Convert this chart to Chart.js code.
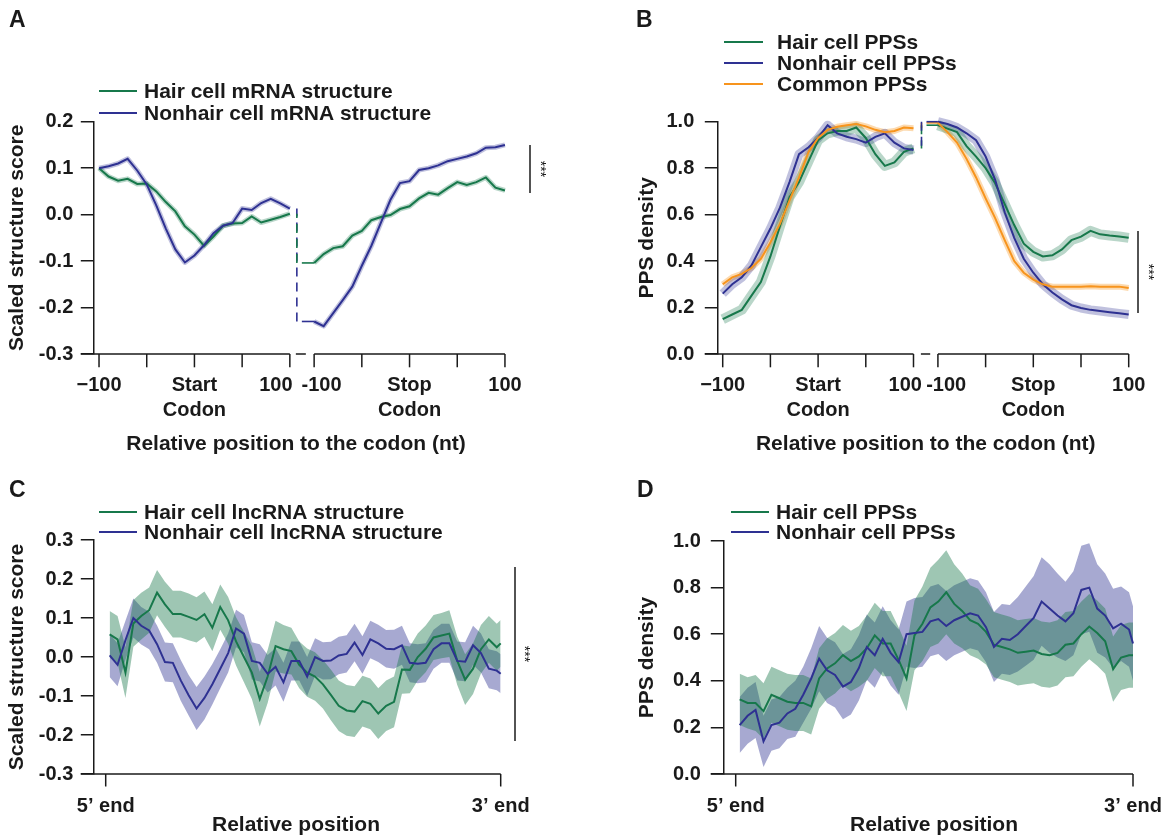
<!DOCTYPE html>
<html>
<head>
<meta charset="utf-8">
<script src="https://cdn.jsdelivr.net/npm/chart.js@4.4.0/dist/chart.umd.min.js"></script>
<style>
  html, body { margin: 0; padding: 0; background: #fff; }
  #wrap { position: relative; width: 1171px; height: 838px; }
  canvas { position: absolute; }
</style>
</head>
<body>
<div id="wrap">
  <canvas id="cA" width="585" height="470" style="left:0;top:0"></canvas>
  <canvas id="cB" width="586" height="470" style="left:585px;top:0"></canvas>
  <canvas id="cC" width="585" height="368" style="left:0;top:470px"></canvas>
  <canvas id="cD" width="586" height="368" style="left:585px;top:470px"></canvas>
</div>
<script>
// colours / fonts
const FONT = "'Liberation Sans', Arial, Helvetica, sans-serif";
const INK = '#1a1a1a';
const GREEN = '#17784b';
const BLUE = '#2e3192';
const ORANGE = '#f7941d';
const FS = 20;   // tick labels
const FL = 21;   // legend + axis titles

// ---------- data ----------
// positions (nt) around the codon, every 10 nt
const ntPos = [-100, -90, -80, -70, -60, -50, -40, -30, -20, -10, 0, 10, 20, 30, 40, 50, 60, 70, 80, 90, 100];
const codonTicks = [-100, -50, 0, 50, 100];
const codonLabelNt = [-100, 0, 100];
const startLabels = ['\u2212100', 'Start\nCodon', '100'];
const stopLabels = ['-100', 'Stop\nCodon', '100'];

// A: scaled mRNA structure score
const aHairStart = [0.100, 0.082, 0.073, 0.077, 0.066, 0.067, 0.050, 0.027, 0.007, -0.025, -0.043, -0.067, -0.047, -0.024, -0.019, -0.018, -0.004, -0.017, -0.011, -0.005, 0.002];
const aNonhairStart = [0.100, 0.104, 0.110, 0.120, 0.095, 0.065, 0.020, -0.030, -0.075, -0.103, -0.088, -0.066, -0.040, -0.024, -0.018, 0.013, 0.010, 0.025, 0.034, 0.024, 0.013];
const aHairStop = [-0.104, -0.085, -0.072, -0.068, -0.045, -0.035, -0.012, -0.005, -0.001, 0.012, 0.018, 0.035, 0.047, 0.043, 0.057, 0.070, 0.064, 0.070, 0.080, 0.058, 0.052];
const aNonhairStop = [-0.230, -0.240, -0.212, -0.184, -0.155, -0.110, -0.067, -0.017, 0.032, 0.068, 0.072, 0.096, 0.100, 0.106, 0.115, 0.120, 0.125, 0.132, 0.144, 0.145, 0.150];

// B: PPS density
const bHairStart = [0.15, 0.17, 0.19, 0.25, 0.31, 0.42, 0.55, 0.675, 0.74, 0.83, 0.92, 0.95, 0.96, 0.96, 0.975, 0.93, 0.86, 0.81, 0.825, 0.87, 0.885];
const bNonhairStart = [0.26, 0.30, 0.33, 0.38, 0.46, 0.54, 0.63, 0.74, 0.86, 0.89, 0.93, 0.985, 0.95, 0.935, 0.925, 0.91, 0.935, 0.95, 0.91, 0.885, 0.878];
const bCommonStart = [0.30, 0.33, 0.345, 0.37, 0.41, 0.48, 0.56, 0.66, 0.76, 0.87, 0.93, 0.965, 0.978, 0.985, 0.99, 0.98, 0.965, 0.955, 0.96, 0.975, 0.972];
const bHairStop = [0.985, 0.97, 0.955, 0.895, 0.85, 0.80, 0.735, 0.645, 0.555, 0.475, 0.44, 0.42, 0.425, 0.45, 0.49, 0.505, 0.53, 0.515, 0.51, 0.506, 0.50];
const bNonhairStop = [1.0, 0.99, 0.975, 0.95, 0.92, 0.85, 0.75, 0.61, 0.50, 0.41, 0.35, 0.30, 0.265, 0.235, 0.21, 0.198, 0.19, 0.185, 0.18, 0.175, 0.17];
const bCommonStop = [0.995, 0.955, 0.91, 0.84, 0.76, 0.67, 0.585, 0.49, 0.40, 0.35, 0.32, 0.30, 0.29, 0.29, 0.29, 0.29, 0.292, 0.29, 0.29, 0.29, 0.284];

// C / D: relative position along the transcript (0 = 5' end, 100 = 3' end)
const relPos = [1, 3, 5, 7, 9, 11, 13, 15, 17, 19, 21, 23, 25, 27, 29, 31, 33, 35, 37, 39, 41, 43, 45, 47, 49,
  51, 53, 55, 57, 59, 61, 63, 65, 67, 69, 71, 73, 75, 77, 79, 81, 83, 85, 87, 89, 91, 93, 95, 97, 99, 100];
const endLabels = ['5\u2019 end', '3\u2019 end'];

const cHair = [0.058, 0.045, -0.040, 0.086, 0.105, 0.120, 0.165, 0.135, 0.110, 0.110, 0.103, 0.095, 0.110, 0.075, 0.128, 0.094, 0.040, 0.000, -0.040, -0.108, -0.050, 0.028, 0.020, 0.015, -0.020,
  -0.040, -0.050, -0.070, -0.097, -0.125, -0.137, -0.140, -0.113, -0.120, -0.145, -0.125, -0.115, -0.032, -0.033, 0.000, 0.021, 0.050, 0.055, 0.060, -0.010, -0.058, -0.030, 0.020, 0.045, 0.025, 0.035];
const cHairHW = [0.060, 0.060, 0.065, 0.060, 0.060, 0.058, 0.058, 0.058, 0.060, 0.060, 0.060, 0.058, 0.058, 0.060, 0.058, 0.060, 0.062, 0.065, 0.068, 0.070, 0.068, 0.065, 0.062, 0.060, 0.060,
  0.062, 0.062, 0.062, 0.065, 0.065, 0.065, 0.065, 0.065, 0.065, 0.065, 0.065, 0.065, 0.062, 0.060, 0.060, 0.060, 0.058, 0.058, 0.060, 0.062, 0.065, 0.065, 0.062, 0.060, 0.060, 0.060];
const cNonhair = [0.004, -0.020, 0.043, 0.100, 0.080, 0.068, 0.033, -0.013, -0.015, -0.060, -0.098, -0.132, -0.105, -0.070, -0.030, 0.010, 0.073, 0.060, -0.010, -0.015, -0.043, -0.025, -0.065, -0.010, -0.010,
  -0.050, 0.000, -0.010, -0.009, 0.004, 0.008, 0.037, 0.005, 0.045, 0.035, 0.021, 0.020, 0.030, -0.015, -0.017, -0.015, 0.020, 0.035, 0.035, -0.010, -0.012, 0.030, 0.010, -0.030, -0.035, -0.043];
const cNonhairHW = [0.055, 0.055, 0.050, 0.050, 0.048, 0.048, 0.048, 0.050, 0.050, 0.052, 0.052, 0.055, 0.055, 0.052, 0.050, 0.050, 0.048, 0.048, 0.048, 0.048, 0.048, 0.048, 0.050, 0.050, 0.050,
  0.050, 0.048, 0.048, 0.048, 0.048, 0.048, 0.048, 0.048, 0.048, 0.048, 0.048, 0.050, 0.050, 0.050, 0.050, 0.050, 0.050, 0.050, 0.050, 0.050, 0.050, 0.050, 0.050, 0.050, 0.050, 0.050];

const dHair = [0.32, 0.305, 0.305, 0.27, 0.34, 0.325, 0.31, 0.305, 0.305, 0.29, 0.41, 0.453, 0.475, 0.51, 0.485, 0.505, 0.54, 0.595, 0.56, 0.56, 0.49, 0.41, 0.595, 0.645, 0.715,
  0.74, 0.78, 0.73, 0.70, 0.66, 0.645, 0.61, 0.555, 0.545, 0.535, 0.52, 0.525, 0.53, 0.515, 0.51, 0.52, 0.555, 0.56, 0.60, 0.633, 0.605, 0.57, 0.45, 0.50, 0.51, 0.51];
const dHairHW = [0.11, 0.11, 0.12, 0.12, 0.12, 0.12, 0.12, 0.12, 0.12, 0.12, 0.13, 0.13, 0.13, 0.13, 0.13, 0.13, 0.14, 0.14, 0.14, 0.14, 0.14, 0.14, 0.15, 0.16, 0.17,
  0.18, 0.18, 0.17, 0.16, 0.15, 0.15, 0.14, 0.14, 0.14, 0.14, 0.14, 0.14, 0.14, 0.14, 0.14, 0.14, 0.14, 0.14, 0.14, 0.14, 0.14, 0.14, 0.14, 0.14, 0.14, 0.14];
const dNonhair = [0.21, 0.25, 0.275, 0.14, 0.21, 0.22, 0.26, 0.28, 0.34, 0.41, 0.495, 0.445, 0.425, 0.375, 0.395, 0.455, 0.545, 0.51, 0.58, 0.52, 0.48, 0.60, 0.605, 0.61, 0.655,
  0.665, 0.635, 0.66, 0.675, 0.69, 0.68, 0.63, 0.545, 0.58, 0.575, 0.60, 0.635, 0.67, 0.74, 0.71, 0.68, 0.655, 0.69, 0.79, 0.80, 0.71, 0.68, 0.625, 0.645, 0.62, 0.56];
const dNonhairHW = [0.12, 0.12, 0.12, 0.11, 0.11, 0.11, 0.11, 0.12, 0.12, 0.13, 0.14, 0.14, 0.14, 0.14, 0.14, 0.14, 0.14, 0.14, 0.14, 0.14, 0.14, 0.14, 0.15, 0.15, 0.15,
  0.15, 0.15, 0.15, 0.15, 0.15, 0.15, 0.15, 0.15, 0.15, 0.15, 0.16, 0.17, 0.18, 0.19, 0.19, 0.18, 0.17, 0.18, 0.19, 0.19, 0.19, 0.18, 0.17, 0.16, 0.16, 0.16];

// y tick values / labels
const yValsA = [-0.3, -0.2, -0.1, 0, 0.1, 0.2];
const yLabsA = ['-0.3', '-0.2', '-0.1', '0.0', '0.1', '0.2'];
const yValsB = [0, 0.2, 0.4, 0.6, 0.8, 1.0];
const yLabsB = ['0.0', '0.2', '0.4', '0.6', '0.8', '1.0'];
const yValsC = [-0.3, -0.2, -0.1, 0, 0.1, 0.2, 0.3];
const yLabsC = ['-0.3', '-0.2', '-0.1', '0.0', '0.1', '0.2', '0.3'];

// ---------- helpers ----------
function rgba(hex, a) {
  const n = parseInt(hex.slice(1), 16);
  return `rgba(${n >> 16},${(n >> 8) & 255},${n & 255},${a})`;
}
function seg(ctx, x1, y1, x2, y2) {
  ctx.beginPath(); ctx.moveTo(x1, y1); ctx.lineTo(x2, y2); ctx.stroke();
}

function yAxis(min, max, vals, labs, title, width, labelPad, titlePad) {
  return {
    min, max,
    afterFit: s => { s.width = width; },
    afterBuildTicks: s => { s.ticks = vals.map(v => ({ value: v })); },
    ticks: {
      callback: (v, i) => labs[i],
      font: { family: FONT, size: FS, weight: 'bold' },
      color: INK, padding: labelPad, autoSkip: false
    },
    grid: { drawOnChartArea: false, drawTicks: true, tickLength: 12.5, color: INK, lineWidth: 1.5 },
    border: { display: true, color: INK, width: 1.5 },
    title: {
      display: true, text: title, color: INK,
      font: { family: FONT, size: 21, weight: 'bold', lineHeight: 1 },
      padding: { top: titlePad, bottom: 0 }
    }
  };
}

// legend, panel letter, significance bar, x title
function drawCommon(ctx, cfg) {
  ctx.lineWidth = 2;
  ctx.font = `bold ${FL}px ${FONT}`;
  ctx.textAlign = 'left';
  ctx.textBaseline = 'middle';
  cfg.legend.items.forEach(([txt, col], i) => {
    const y = cfg.legend.ys[i];
    ctx.strokeStyle = col;
    seg(ctx, cfg.legend.x1, y, cfg.legend.x2, y);
    ctx.fillStyle = INK;
    ctx.fillText(txt, cfg.legend.tx, y + 1);
  });
  ctx.font = `bold 23px ${FONT}`;
  ctx.textBaseline = 'alphabetic';
  ctx.fillText(cfg.letter, cfg.letterPos[0], cfg.letterPos[1]);
  if (cfg.sig) {
    ctx.strokeStyle = INK; ctx.lineWidth = 1.5;
    seg(ctx, cfg.sig.x, cfg.sig.y1, cfg.sig.x, cfg.sig.y2);
    ctx.save();
    ctx.translate(cfg.sig.tx, (cfg.sig.y1 + cfg.sig.y2) / 2);
    ctx.rotate(Math.PI / 2);
    ctx.font = `14px ${FONT}`;
    ctx.textAlign = 'center'; ctx.textBaseline = 'middle';
    ctx.fillText('***', 0, 0);
    ctx.restore();
  }
  ctx.font = `bold ${FL}px ${FONT}`;
  ctx.textAlign = 'center'; ctx.textBaseline = 'alphabetic';
  ctx.fillText(cfg.xTitle.text, cfg.xTitle.x, cfg.xTitle.y);
}

// axes and connectors of the start/stop codon panels
function codonDecor(cfg) {
  return {
    id: 'codonDecor',
    afterDraw(chart) {
      const { ctx, chartArea } = chart;
      const xs = chart.scales.x, ys = chart.scales.y;
      const X = (s, nt) => xs.getPixelForValue(nt + 100 + s * (200 + cfg.gap)) + cfg.ox;
      const Y = v => ys.getPixelForValue(v) + cfg.oy;
      const axisY = chartArea.bottom + cfg.oy;
      ctx.save();
      ctx.translate(-cfg.ox, -cfg.oy);
      ctx.strokeStyle = INK; ctx.lineWidth = 1.5; ctx.lineCap = 'butt';
      seg(ctx, chartArea.left + cfg.ox - 12.5, axisY, X(0, 100), axisY);
      seg(ctx, X(1, -100), axisY, X(1, 100), axisY);
      seg(ctx, X(0, 100) + cfg.brk[0], axisY, X(0, 100) + cfg.brk[1], axisY);
      [0, 1].forEach(s => codonTicks.forEach(nt => seg(ctx, X(s, nt), axisY, X(s, nt), axisY + 13.3)));
      ctx.fillStyle = INK;
      ctx.font = `bold ${FS}px ${FONT}`;
      ctx.textAlign = 'center'; ctx.textBaseline = 'alphabetic';
      [startLabels, stopLabels].forEach((labs, s) => labs.forEach((lab, k) => {
        const x = X(s, codonLabelNt[k]) + cfg.shift[s][k];
        lab.split('\n').forEach((ln, j) => ctx.fillText(ln, x, cfg.labelY + j * 25));
      }));
      // dashed connectors between the two windows
      const cx = X(0, 100) + cfg.connX;
      cfg.conn.forEach(([left, right, col]) => {
        ctx.strokeStyle = col; ctx.lineWidth = 1.6;
        ctx.setLineDash([9, 6]);
        seg(ctx, cx, Y(right[0]), cx, Y(left[left.length - 1]));
        ctx.setLineDash([]);
        seg(ctx, cx + cfg.connH, Y(right[0]), X(1, -100), Y(right[0]));
      });
      drawCommon(ctx, cfg);
      ctx.restore();
    }
  };
}

function endDecor(cfg) {
  return {
    id: 'endDecor',
    afterDraw(chart) {
      const { ctx, chartArea } = chart;
      const xs = chart.scales.x;
      const X = p => xs.getPixelForValue(p) + cfg.ox;
      const axisY = chartArea.bottom + cfg.oy;
      ctx.save();
      ctx.translate(-cfg.ox, -cfg.oy);
      ctx.strokeStyle = INK; ctx.lineWidth = 1.5;
      seg(ctx, chartArea.left + cfg.ox - 12.5, axisY, X(100), axisY);
      [0, 100].forEach(p => seg(ctx, X(p), axisY, X(p), axisY + 12.5));
      ctx.fillStyle = INK;
      ctx.font = `bold ${FS}px ${FONT}`;
      ctx.textAlign = 'center'; ctx.textBaseline = 'alphabetic';
      ctx.fillText(endLabels[0], X(0), cfg.labelY);
      ctx.fillText(endLabels[1], X(100), cfg.labelY);
      drawCommon(ctx, cfg);
      ctx.restore();
    }
  };
}

function codonSets(series, gap) {
  const sets = [];
  series.forEach((s, i) => {
    [s.start, s.stop].forEach((vals, sg) => {
      const pts = ntPos.map((nt, k) => ({ x: nt + 100 + sg * (200 + gap), y: vals[k] }));
      sets.push({ data: pts, borderColor: rgba(s.color, s.ribbonA), borderWidth: s.ribbonW, order: 20 + i,
        borderJoinStyle: 'round', clip: false });
      sets.push({ data: pts, borderColor: s.color, borderWidth: 2, order: 10 - i, clip: false });
    });
  });
  return sets;
}

function bandSets(series) {
  const sets = [];
  series.forEach((s, i) => {
    const up = relPos.map((p, k) => ({ x: p, y: s.mean[k] + s.hw[k] }));
    const lo = relPos.map((p, k) => ({ x: p, y: s.mean[k] - s.hw[k] }));
    sets.push({ data: up, borderWidth: 0, backgroundColor: rgba(s.color, 0.42), fill: '+1', order: 30 + 2 * i, clip: false });
    sets.push({ data: lo, borderWidth: 0, fill: false, order: 31 + 2 * i, clip: false });
  });
  series.forEach((s, i) => {
    sets.push({ data: relPos.map((p, k) => ({ x: p, y: s.mean[k] })), borderColor: s.color, borderWidth: 2, order: 10 - i, clip: false });
  });
  return sets;
}

function baseOptions(padding, xMin, xMax, y) {
  return {
    responsive: false,
    animation: false,
    events: [],
    layout: { padding, autoPadding: false },
    plugins: { legend: { display: false }, tooltip: { enabled: false } },
    elements: { point: { radius: 0 }, line: { tension: 0, fill: false } },
    scales: { x: { type: 'linear', min: xMin, max: xMax, display: false }, y }
  };
}

// ---------- Panel A ----------
const gapA = 25.45;
new Chart(document.getElementById('cA'), {
  type: 'line',
  data: { datasets: codonSets([
    { start: aHairStart, stop: aHairStop, color: GREEN, ribbonW: 5, ribbonA: 0.3 },
    { start: aNonhairStart, stop: aNonhairStop, color: BLUE, ribbonW: 5, ribbonA: 0.3 }
  ], gapA) },
  options: baseOptions({ left: 0, top: 121.7, right: 80, bottom: 116 }, -6, 425.5,
    yAxis(-0.3, 0.2, yValsA, yLabsA, 'Scaled structure score', 93.3, 7.5, 7)),
  plugins: [codonDecor({
    ox: 0, oy: 0, gap: gapA, brk: [6, 16], labelY: 391,
    shift: [[0, 0, -14], [7.4, 0, 0]], connX: 7, connH: 5,
    conn: [[aNonhairStart, aNonhairStop, BLUE], [aHairStart, aHairStop, GREEN]],
    letter: 'A', letterPos: [9, 27],
    legend: { x1: 99, x2: 137, tx: 144, ys: [91, 113],
      items: [['Hair cell mRNA structure', GREEN], ['Nonhair cell mRNA structure', BLUE]] },
    sig: { x: 530, y1: 145, y2: 193, tx: 540 },
    xTitle: { text: 'Relative position to the codon (nt)', x: 296, y: 450 }
  })]
});

// ---------- Panel B ----------
const gapB = 25.6;
new Chart(document.getElementById('cB'), {
  type: 'line',
  data: { datasets: codonSets([
    { start: bHairStart, stop: bHairStop, color: GREEN, ribbonW: 10, ribbonA: 0.3 },
    { start: bNonhairStart, stop: bNonhairStop, color: BLUE, ribbonW: 9, ribbonA: 0.3 },
    { start: bCommonStart, stop: bCommonStop, color: ORANGE, ribbonW: 6, ribbonA: 0.35 }
  ], gapB) },
  options: baseOptions({ left: 0, top: 121.7, right: 42.3, bottom: 116 }, -5.67, 425.6,
    yAxis(0, 1.0, yValsB, yLabsB, 'PPS density', 132.3, 10.5, 52)),
  plugins: [codonDecor({
    ox: 585, oy: 0, gap: gapB, brk: [7.4, 16.7], labelY: 391,
    shift: [[0, 0, -8.3], [8.3, 0, 0]], connX: 8, connH: 5,
    conn: [[bHairStart, bHairStop, GREEN], [bCommonStart, bCommonStop, ORANGE], [bNonhairStart, bNonhairStop, BLUE]],
    letter: 'B', letterPos: [636, 27],
    legend: { x1: 724, x2: 763, tx: 777, ys: [42, 63, 84],
      items: [['Hair cell PPSs', GREEN], ['Nonhair cell PPSs', BLUE], ['Common PPSs', ORANGE]] },
    sig: { x: 1138, y1: 231, y2: 313, tx: 1148 },
    xTitle: { text: 'Relative position to the codon (nt)', x: 925.7, y: 450 }
  })]
});

// ---------- Panel C ----------
new Chart(document.getElementById('cC'), {
  type: 'line',
  data: { datasets: bandSets([
    { mean: cHair, hw: cHairHW, color: GREEN },
    { mean: cNonhair, hw: cNonhairHW, color: BLUE }
  ]) },
  options: baseOptions({ left: 0, top: 70, right: 84.3, bottom: 64 }, -3.14, 100,
    yAxis(-0.3, 0.3, yValsC, yLabsC, 'Scaled structure score', 93.3, 7.5, 7)),
  plugins: [endDecor({
    ox: 0, oy: 470, labelY: 812,
    letter: 'C', letterPos: [9, 497],
    legend: { x1: 99, x2: 137, tx: 144, ys: [512, 532],
      items: [['Hair cell lncRNA structure', GREEN], ['Nonhair cell lncRNA structure', BLUE]] },
    sig: { x: 515, y1: 567, y2: 741, tx: 524 },
    xTitle: { text: 'Relative position', x: 296, y: 831 }
  })]
});

// ---------- Panel D ----------
new Chart(document.getElementById('cD'), {
  type: 'line',
  data: { datasets: bandSets([
    { mean: dHair, hw: dHairHW, color: GREEN },
    { mean: dNonhair, hw: dNonhairHW, color: BLUE }
  ]) },
  options: baseOptions({ left: 0, top: 71, right: 38, bottom: 64 }, -3.12, 100,
    yAxis(0, 1.0, yValsB, yLabsB, 'PPS density', 138.3, 10, 52)),
  plugins: [endDecor({
    ox: 585, oy: 470, labelY: 812,
    letter: 'D', letterPos: [637, 497],
    legend: { x1: 731, x2: 769, tx: 776, ys: [512, 532],
      items: [['Hair cell PPSs', GREEN], ['Nonhair cell PPSs', BLUE]] },
    sig: null,
    xTitle: { text: 'Relative position', x: 934, y: 831 }
  })]
});
</script>
</body>
</html>
